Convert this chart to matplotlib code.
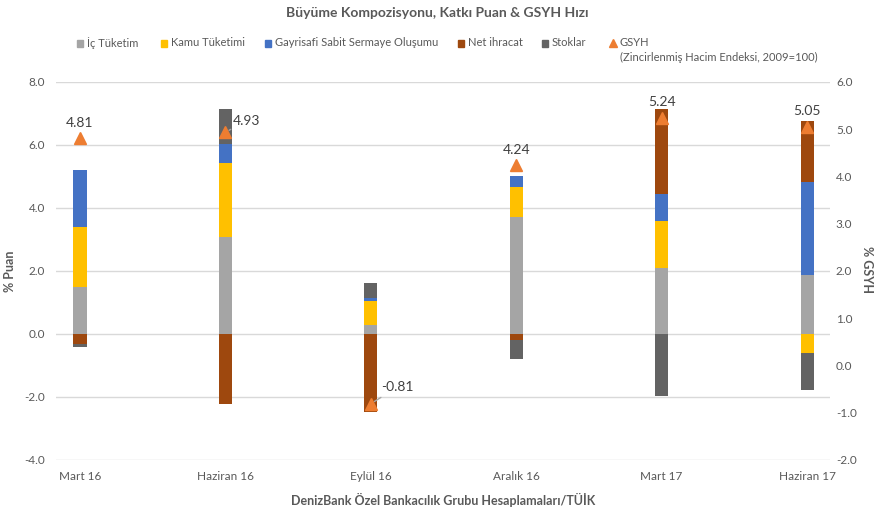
import matplotlib.pyplot as plt
import matplotlib.patches as mpatches
import numpy as np

plt.rcParams['font.family'] = ['Lato', 'DejaVu Sans']

quarters = ['Mart 16', 'Haziran 16', 'Eylül 16', 'Aralık 16', 'Mart 17', 'Haziran 17']
ic_tuketim = [1.50, 3.09, 0.29, 3.70, 2.10, 1.86]
kamu_tuketimi = [1.89, 2.33, 0.74, 0.95, 1.47, -0.60]
gsso = [1.82, 0.61, 0.12, 0.36, 0.87, 2.97]
net_ihracat = [-0.32, -2.22, -2.47, -0.19, 2.70, 1.94]
stoklar = [-0.10, 1.10, 0.46, -0.61, -1.97, -1.18]
gsyh = [4.81, 4.93, -0.81, 4.24, 5.24, 5.05]

series = [('İç Tüketim', ic_tuketim, '#A5A5A5'),
          ('Kamu Tüketimi', kamu_tuketimi, '#FFC000'),
          ('Gayrisafi Sabit Sermaye Oluşumu', gsso, '#4472C4'),
          ('Net ihracat', net_ihracat, '#9E480E'),
          ('Stoklar', stoklar, '#636363')]

txt = '#595959'
x = np.arange(len(quarters))

fig = plt.figure(figsize=(8.75, 5.08), dpi=100)
ax = fig.add_axes([0.064, 0.0945, 0.885, 0.7445])

pos = np.zeros(len(x))
neg = np.zeros(len(x))
for name, vals, col in series:
    v = np.array(vals)
    bottom = np.where(v >= 0, pos, neg)
    ax.bar(x, v, width=0.09, bottom=bottom, color=col, zorder=3)
    pos = pos + np.where(v >= 0, v, 0)
    neg = neg + np.where(v < 0, v, 0)

ax.set_ylim(-4, 8)
ax.set_yticks(np.arange(-4, 8.1, 2))
ax.set_yticklabels(['%.1f' % t for t in np.arange(-4, 8.1, 2)])
ax.set_xlim(-0.165, 5.16)
ax.set_xticks(x)
ax.set_xticklabels(quarters)
ax.grid(axis='y', color='#D9D9D9', linewidth=1, zorder=0)
for s in ax.spines.values():
    s.set_visible(False)
ax.tick_params(length=0, colors=txt, labelsize=8.5)
ax.tick_params(axis='y', pad=8)
ax.tick_params(axis='x', pad=8)
ax.set_ylabel('% Puan', color=txt, fontsize=9, fontweight='bold', labelpad=6)
ax.set_xlabel('DenizBank Özel Bankacılık Grubu Hesaplamaları/TÜİK', color=txt,
              fontsize=9, fontweight='bold', labelpad=8)

ax2 = ax.twinx()
ax2.set_ylim(-2, 6)
ax2.set_yticks(np.arange(-2, 6.1, 1))
ax2.set_yticklabels(['%.1f' % t for t in np.arange(-2, 6.1, 1)])
for s in ax2.spines.values():
    s.set_visible(False)
ax2.tick_params(length=0, colors=txt, labelsize=8.5, pad=4)
ax2.plot(x, gsyh, linestyle='none', marker='^', markersize=8, color='#ED7D31', zorder=5)
fig.text(867 / 875, 1 - 270 / 508, '% GSYH', color=txt, fontsize=9, fontweight='bold',
         rotation=-90, ha='center', va='center')

lab = '#404040'
for i, g in enumerate(gsyh):
    s = '%.2f' % g
    if i == 1:
        ax2.annotate(s, xy=(x[i], g), xytext=(x[i] + 0.05, g + 0.25), fontsize=10, color=lab,
                     ha='left', va='center',
                     arrowprops=dict(arrowstyle='-', color='#A6A6A6', lw=1, shrinkA=0, shrinkB=3))
    elif i == 2:
        ax2.annotate(s, xy=(x[i], g), xytext=(x[i] + 0.07, g + 0.35), fontsize=10, color=lab,
                     ha='left', va='center',
                     arrowprops=dict(arrowstyle='-', color='#A6A6A6', lw=1, shrinkA=2, shrinkB=3))
    else:
        ax2.text(x[i], g + 0.2, s, ha='center', va='bottom', fontsize=10, color=lab)

fig.text(0.5, 0.975, 'Büyüme Kompozisyonu, Katkı Puan & GSYH Hızı', ha='center', va='center',
         fontsize=10, fontweight='bold', color=txt)

# legend drawn by hand
leg_y = 1 - 43 / 508
items = [('İç Tüketim', '#A5A5A5', 80), ('Kamu Tüketimi', '#FFC000', 164),
         ('Gayrisafi Sabit Sermaye Oluşumu', '#4472C4', 268), ('Net ihracat', '#9E480E', 461),
         ('Stoklar', '#636363', 545)]
for name, col, px in items:
    fig.patches.append(mpatches.Rectangle((px / 875 - 0.003, leg_y - 0.008), 0.0065, 0.013,
                                          transform=fig.transFigure, color=col))
    fig.text(px / 875 + 0.008, leg_y, name, ha='left', va='center', fontsize=8, color=txt)
fig.lines.append(plt.Line2D([613 / 875], [leg_y], marker='^', markersize=6, color='#ED7D31',
                            transform=fig.transFigure))
fig.text(620 / 875, leg_y, 'GSYH', ha='left', va='center', fontsize=8, color=txt)
fig.text(620 / 875, 1 - 57 / 508, '(Zincirlenmiş Hacim Endeksi, 2009=100)', ha='left',
         va='center', fontsize=8, color=txt)

fig.savefig('out.png', dpi=100)
